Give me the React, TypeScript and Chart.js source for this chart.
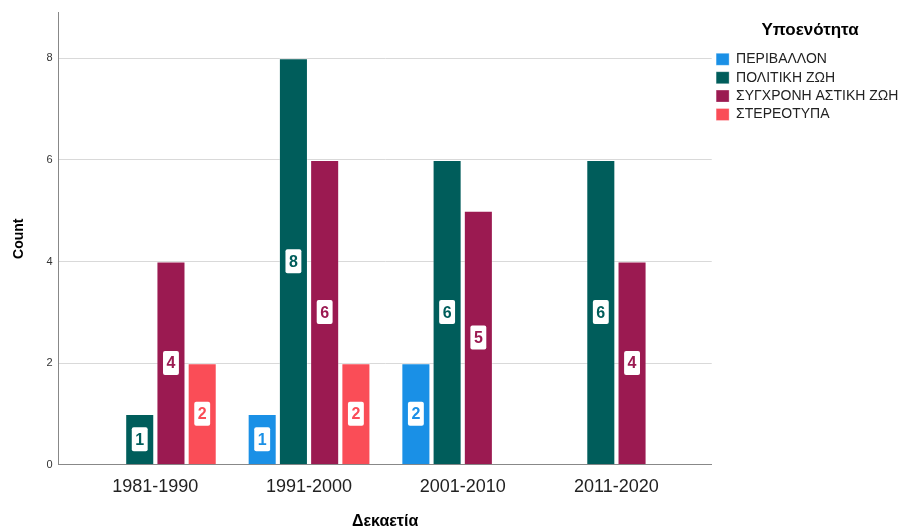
import { useEffect, useRef } from 'react';
import { Chart, registerables } from 'chart.js';

Chart.register(...registerables);

const DECADES = ['1981-1990', '1991-2000', '2001-2010', '2011-2020'];
const SERIES_NAMES = ['ΠΕΡΙΒΑΛΛΟΝ', 'ΠΟΛΙΤΙΚΗ ΖΩΗ', 'ΣΥΓΧΡΟΝΗ ΑΣΤΙΚΗ ΖΩΗ', 'ΣΤΕΡΕΟΤΥΠΑ'];
const PERIVALLON = [null, 1, 2, null];
const POLITIKI_ZOI = [1, 8, 6, 6];
const SYGXRONI_ASTIKI_ZOI = [4, 6, 5, 4];
const STEREOTYPA = [2, 2, null, null];
const SERIES_VALUES = [PERIVALLON, POLITIKI_ZOI, SYGXRONI_ASTIKI_ZOI, STEREOTYPA];
const COLORS = ['#1a90e6', '#005d5b', '#9b1a51', '#fa4d57'];
const Y_TICKS = [0, 2, 4, 6, 8];

const FONT = '"Liberation Sans", Arial, sans-serif';

const valueLabels = {
  id: 'valueLabels',
  afterDatasetsDraw(chart: any) {
    const ctx = chart.ctx;
    chart.data.datasets.forEach((ds: any, di: number) => {
      const meta = chart.getDatasetMeta(di);
      meta.data.forEach((el: any, i: number) => {
        const v = ds.data[i].y;
        if (v == null) return;
        const { x, y, base } = el.getProps(['x', 'y', 'base'], true);
        const cy = (y + base) / 2;
        const txt = String(v);
        ctx.save();
        ctx.font = `bold 16px ${FONT}`;
        const w = ctx.measureText(txt).width + 7;
        const h = 24;
        ctx.fillStyle = '#ffffff';
        ctx.beginPath();
        ctx.roundRect(x - w / 2, cy - h / 2, w, h, 2);
        ctx.fill();
        ctx.fillStyle = ds.backgroundColor;
        ctx.textAlign = 'center';
        ctx.textBaseline = 'middle';
        ctx.fillText(txt, x, cy + 1);
        ctx.restore();
      });
    });
  },
};

export default function App() {
  const ref = useRef<HTMLCanvasElement | null>(null);

  useEffect(() => {
    document.body.style.margin = '0';
    Chart.defaults.font.family = FONT;
    const chart = new Chart(ref.current as HTMLCanvasElement, {
      type: 'bar',
      data: {
        datasets: SERIES_NAMES.map((name, si) => ({
          label: name,
          data: SERIES_VALUES[si].map((v, i) => ({ x: i, y: v })),
          backgroundColor: COLORS[si],
          borderColor: 'rgba(255,255,255,0.3)',
          borderWidth: 1,
          categoryPercentage: 0.813,
          barPercentage: 0.93,
        })),
      } as any,
      options: {
        responsive: false,
        animation: false,
        layout: { padding: { top: 12, right: -6.4, bottom: 0.4, left: 0 } },
        scales: {
          x: {
            type: 'linear',
            offset: false,
            min: -0.63,
            max: 3.62,
            afterBuildTicks: (axis: any) => {
              axis.ticks = DECADES.map((_, i) => ({ value: i }));
            },
            ticks: {
              callback: (v: any) => DECADES[v] ?? '',
              font: { size: 18 },
              color: '#222',
              padding: 3,
              maxRotation: 0,
              autoSkip: false,
            },
            grid: { display: false, offset: false, drawTicks: true, tickLength: 8 },
            border: { display: true, color: '#888', width: 1 },
            title: {
              display: true,
              text: 'Δεκαετία',
              font: { size: 16, weight: 'bold' },
              color: '#000',
              padding: { top: 12, bottom: 0 },
            },
          },
          y: {
            min: 0,
            max: 8.9,
            afterBuildTicks: (axis: any) => {
              axis.ticks = Y_TICKS.map((v) => ({ value: v }));
            },
            ticks: { font: { size: 11 }, color: '#333', padding: 6 },
            grid: { color: '#d9d9d9', lineWidth: 1, drawTicks: false },
            border: { display: true, color: '#888', width: 1 },
            title: {
              display: true,
              text: 'Count',
              font: { size: 14, weight: 'bold' },
              color: '#000',
              padding: { top: 10.6, bottom: 13 },
            },
          },
        },
        plugins: {
          tooltip: { enabled: false },
          legend: {
            position: 'right',
            align: 'start',
            title: {
              display: true,
              text: 'Υποενότητα',
              color: '#000',
              font: { size: 17, weight: 'bold' },
              padding: { top: 10, bottom: 5.5 },
            },
            labels: {
              boxWidth: 13,
              boxHeight: 12,
              padding: 4.4,
              color: '#222',
              font: { size: 14 },
            },
          },
        },
      } as any,
      plugins: [valueLabels],
    });
    return () => chart.destroy();
  }, []);

  return (
    <div style={{ position: 'absolute', left: 0, top: 0, width: 902, height: 532 }}>
      <canvas ref={ref} width={902} height={532} />
    </div>
  );
}
